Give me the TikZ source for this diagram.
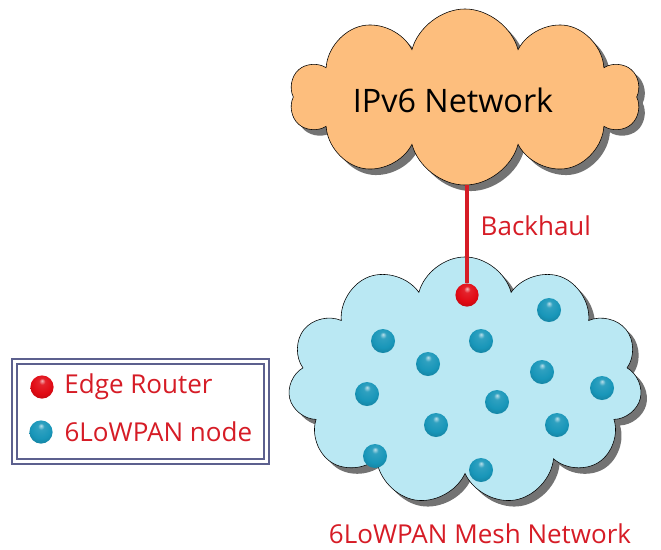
\documentclass[tikz,border=0pt]{standalone}
\usepackage{fontspec}
\setmainfont{Open Sans}
\usetikzlibrary{shapes.symbols, shadows, positioning}
\definecolor{cloudorange}{RGB}{253,190,125}
\definecolor{cloudsky}{RGB}{186,232,243}
\definecolor{nodeteal}{RGB}{24,150,185}
\definecolor{routerred}{RGB}{225,10,20}
\definecolor{labelred}{RGB}{214,28,38}
\definecolor{legendframe}{RGB}{92,96,142}

\pgfdeclareradialshading{tealball}{\pgfqpoint{0bp}{14bp}}{color(0bp)=(nodeteal!30!white);
    color(7bp)=(nodeteal!90!white); color(22bp)=(nodeteal); color(40bp)=(nodeteal!75!black);
    color(50bp)=(nodeteal!55!black)}
\pgfdeclareradialshading{redball}{\pgfqpoint{0bp}{14bp}}{color(0bp)=(routerred!30!white);
    color(7bp)=(routerred!90!white); color(22bp)=(routerred); color(40bp)=(routerred!75!black);
    color(50bp)=(routerred!55!black)}

\begin{document}
\begin{tikzpicture}[x=0.025cm, y=-0.025cm,
    every node/.style={font=\fontsize{18.5}{22}\selectfont},
    netcloud/.style={cloud, cloud puffs=10, cloud ignores aspect, draw=black, thin,
        drop shadow={shadow xshift=0.15cm, shadow yshift=-0.15cm, fill=black!55, opacity=1}},
    router/.style={circle, inner sep=0pt, minimum size=0.58cm, shading=redball},
    sensor/.style={circle, inner sep=0pt, minimum size=0.6cm, shading=tealball},
    redlabel/.style={text=labelred, inner sep=1pt},
    backhaul/.style={draw=labelred, line width=0.1cm},
    legendbox/.style={rectangle, draw=legendframe, line width=0.06cm, double=white,
        double distance=0.06cm, fill=white}
]
    \useasboundingbox (0,0) rectangle (661,549);

    % clouds
    \node[netcloud, fill=cloudorange, minimum width=8.75cm, minimum height=4.4cm] (ipv6) at (465,97) {};
    \node[font=\fontsize{23}{27}\selectfont] (ipv6name) at (453,100) {IPv6 Network};
    \node[netcloud, fill=cloudsky, cloud puffs=11, minimum width=8.85cm,
        minimum height=6.2cm] (mesh) at (465,381) {};

    % edge router and uplink
    \node[router] (er) at (467,295) {};
    \draw[backhaul] (er) -- (er |- ipv6.south);
    \node[redlabel, anchor=west] (bh) at (479,226) {Backhaul};

    % 6LoWPAN nodes
    \node[sensor] (n1) at (549,310) {};
    \node[sensor] (n2) at (383,341) {};
    \node[sensor] (n3) at (481,341) {};
    \node[sensor] (n4) at (428,364) {};
    \node[sensor] (n5) at (542,372) {};
    \node[sensor] (n6) at (367,394) {};
    \node[sensor] (n7) at (497,402) {};
    \node[sensor] (n8) at (602,388) {};
    \node[sensor] (n9) at (436,425) {};
    \node[sensor] (n10) at (557,425) {};
    \node[sensor] (n11) at (375,456) {};
    \node[sensor] (n12) at (481,470) {};

    \node[redlabel] (meshname) at (480,534) {6LoWPAN Mesh Network};

    % legend
    \node[legendbox, minimum width=6.3cm, minimum height=2.5cm] (legend) at (140.5,411.5) {};
    \node[router] (lgr) at (42,387) {};
    \node[redlabel, right=0.22cm of lgr] (lgrtext) {Edge Router};
    \node[sensor, minimum size=0.58cm] (lgs) at (41,432) {};
    \node[redlabel, right=0.25cm of lgs] (lgstext) {6LoWPAN node};
\end{tikzpicture}
\end{document}
